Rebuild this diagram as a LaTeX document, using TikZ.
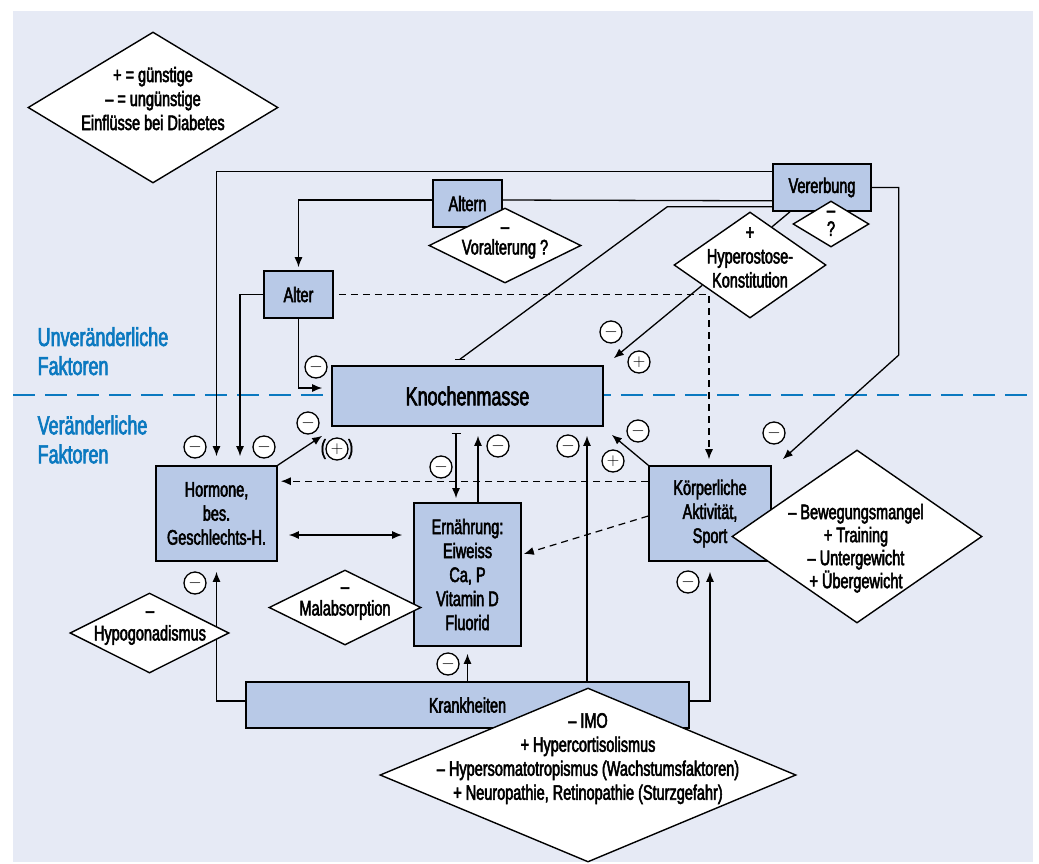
\documentclass[tikz,border=0pt]{standalone}
\usepackage{fontspec}
\setmainfont{Liberation Sans}[FakeStretch=0.69,FakeBold=2.5]
\usetikzlibrary{positioning,calc,shapes.geometric,arrows.meta}
\definecolor{hgblau}{HTML}{E6EAF5}
\definecolor{kastblau}{HTML}{B8C9E7}
\definecolor{textblau}{HTML}{0B79C0}

\begin{document}
\begin{tikzpicture}[x=1pt,y=-1pt,>={Latex[length=10pt,width=8pt]},line width=1.3pt,
  fakt/.style={draw,fill=kastblau,line width=1.6pt,align=center,inner sep=0pt,font=\fontsize{21}{24}\selectfont},
  raute/.style={diamond,draw,fill=white,line width=1.4pt,inner sep=0pt},
  dtxt/.style={align=center,inner sep=0pt,font=\fontsize{21}{24}\selectfont,execute at begin node=\strut,execute at end node=\strut},
  sgn/.style={circle,draw,fill=white,line width=1.3pt,minimum size=22pt,inner sep=0pt,font=\fontsize{17}{17}\selectfont},
  klam/.style={inner sep=0pt,font=\fontsize{21}{24}\selectfont},
  gestr/.style={dash pattern=on 7pt off 5pt,line width=1.2pt},
  bereich/.style={text=textblau,align=left,inner sep=0pt,anchor=west,font=\fontsize{26}{29}\selectfont,execute at begin node=\strut,execute at end node=\strut}]
\useasboundingbox (0,0) rectangle (1039,863);
\fill[hgblau] (13,11) rectangle (1033,862);
\draw[textblau,line width=2.2pt,dash pattern=on 22pt off 10pt] (13,395) -- (1033,395);
\node[bereich] (fUnv) at (37,355.4) {Unveränderliche\\Faktoren};
\node[bereich] (fVer) at (37,443.7) {Veränderliche\\Faktoren};

\node[fakt,minimum width=98pt,minimum height=47pt] (Verb) at (822,187.5) {Vererbung};
\node[fakt,minimum width=69pt,minimum height=47pt] (Altn) at (467.5,203.5) {Altern};
\node[fakt,minimum width=69pt,minimum height=47pt] (Altr) at (298.5,294.5) {Alter};
\node[fakt,minimum width=271pt,minimum height=60pt,font=\fontsize{26}{30}\selectfont] (Kmas) at (467.5,396) {Knochenmasse};
\node[fakt,minimum width=121pt,minimum height=95pt] (Horm) at (216.5,513.5) {Hormone,\\bes.\\Geschlechts-H.};
\node[fakt,minimum width=107pt,minimum height=143pt] (Ernh) at (467.5,574.5) {Ernährung:\\Eiweiss\\Ca, P\\Vitamin D\\Fluorid};
\node[fakt,minimum width=122pt,minimum height=95pt] (Sprt) at (710,513.5) {Körperliche\\Aktivität,\\Sport};
\node[fakt,minimum width=443pt,minimum height=46pt] (Krnk) at (467.5,705) {Krankheiten};

\draw[->] ($(Verb.north west)+(0,8)$) -| ($(Horm.north)+(0,-9)$);
\draw[->] ($(Altn.west)+(0,-3.5)$) -| ($(Altr.north)+(0,-3)$);
\draw ($(Altn.east)+(0,-3.5)$) -- ($(Verb.south west)+(0,-11)$);
\draw ($(Verb.south west)+(0,-5)$) -- ++(-105,0) -- ($(Kmas.north)+(-7.5,-6)$) coordinate (vkEnde);
\draw ($(vkEnde)+(-5,0)$) -- ($(vkEnde)+(5,0)$);
\draw[->] (Verb.east) -- ++(27,0) -- ++(0,167.5) -- ($(Sprt.north east)+(11,-6)$);
\draw[->] (Altr.south) |- ($(Kmas.west)+(-9,-8)$);
\draw[->] (Altr.west) -| ($(Horm.north)+(23.5,-9)$);
\draw[->,gestr] ($(Altr.east)+(5,0)$) -| ($(Sprt.north)+(-1,-6)$);
\draw[->] (Horm.north east) -- ($(Kmas.south west)+(-9,9)$);
\draw[{Bar[width=9pt]}->] ($(Kmas.south)+(-11.5,6)$) -- ($(Ernh.north)+(-11.5,-4)$);
\draw[->] ($(Ernh.north)+(10.5,0)$) -- ($(Kmas.south)+(10.5,9)$);
\draw[->] ($(Krnk.north)+(119.5,0)$) -- ($(Kmas.south)+(119.5,9)$);
\draw[->] (Sprt.north west) -- ($(Kmas.south east)+(8,8)$);
\draw[->,gestr] ($(Sprt.north west)+(0,16)$) -- ($(Horm.north east)+(3,16)$);
\draw[->,gestr] ($(Sprt.west)+(0,2.5)$) -- ($(Ernh.east)+(2,-20.5)$);
\draw[<->] ($(Horm.east)+(11,21.5)$) -- ($(Ernh.west)+(-11,-39.5)$);
\draw[->] ($(Krnk.west)+(0,-4)$) -| ($(Horm.south)+(0,10)$);
\draw[->] (Krnk.north) -- ($(Ernh.south)+(0,7)$);
\draw[->] ($(Krnk.east)+(0,-4)$) -| ($(Sprt.south)+(0,10)$);

\node[raute,minimum width=250pt,minimum height=151pt] (dLeg) at (153,107.5) {};
\node[dtxt] (tLeg) at (153,102) {+ = günstige\\– = ungünstige\\Einflüsse bei Diabetes};
\node[raute,minimum width=152pt,minimum height=75pt] (dVor) at (505,245.5) {};
\node[dtxt] (tVor) at (505,244.5) {–\\[-3pt]Voralterung ?};
\node[raute,minimum width=152pt,minimum height=106pt] (dHyp) at (750,265) {};
\node[dtxt] (tHyp) at (750,261) {+\\Hyperostose-\\Konstitution};
\node[raute,minimum width=76pt,minimum height=46pt] (dFrg) at (831,224) {};
\node[dtxt] (tFrg) at (831,227) {–\\[-5pt]?};
\node[raute,minimum width=250pt,minimum height=173pt] (dSpt) at (857,536.5) {};
\node[dtxt,font=\fontsize{21}{23}\selectfont] (tSpt) at (856,549.5) {– Bewegungsmangel\\+ Training\\– Untergewicht\\+ Übergewicht};
\node[raute,minimum width=159pt,minimum height=80pt] (dHgd) at (149.5,633) {};
\node[dtxt] (tHgd) at (150,629.5) {–\\[-1pt]Hypogonadismus};
\node[raute,minimum width=152pt,minimum height=75pt] (dMal) at (345,607.5) {};
\node[dtxt] (tMal) at (345,605) {–\\[-2pt]Malabsorption};
\node[raute,minimum width=416pt,minimum height=174pt] (dKrk) at (588,775) {};
\node[dtxt] (tKrk) at (588,760) {– IMO\\+ Hypercortisolismus\\– Hypersomatotropismus (Wachstumsfaktoren)\\+ Neuropathie, Retinopathie (Sturzgefahr)};

\draw ($(Verb.south)+(-32,0)$) -- (dHyp.60);
\draw[->] (dHyp.203) -- ($(Kmas.north east)+(10,-7)$);

\node[sgn] (sAlK) at (316,367) {$-$};
\node[sgn] (sHyK) at (611,332) {$-$};
\node[sgn] (sHyP) at (639,362) {$+$};
\node[sgn] (sHo1) at (195,447) {$-$};
\node[sgn] (sHo2) at (264,447) {$-$};
\node[sgn] (sHoK) at (308,423) {$-$};
\node[sgn] (sHoP) at (337,449) {$+$};
\node[klam,left=-1pt of sHoP] (kHoL) {(};
\node[klam,right=-1pt of sHoP] (kHoR) {)};
\node[sgn] (sKE) at (441,467) {$-$};
\node[sgn] (sEK) at (498,446) {$-$};
\node[sgn] (sKrK) at (568,446) {$-$};
\node[sgn] (sSpK) at (638,431) {$-$};
\node[sgn] (sSpP) at (613,461) {$+$};
\node[sgn] (sVeS) at (774,433) {$-$};
\node[sgn] (sKrH) at (195,583) {$-$};
\node[sgn] (sKrE) at (448,664) {$-$};
\node[sgn] (sKrS) at (688,582) {$-$};
\end{tikzpicture}
\end{document}
